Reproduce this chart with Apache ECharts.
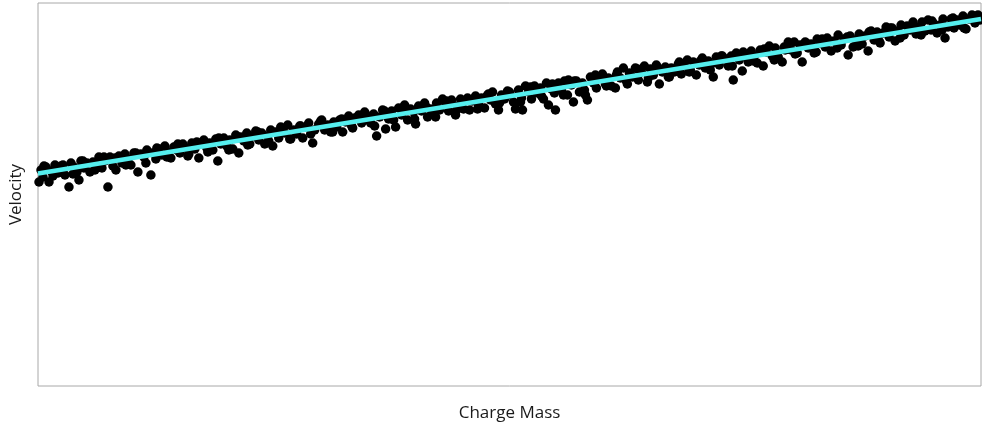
<!DOCTYPE html>
<html>
<head>
<meta charset="utf-8">
<title>Velocity vs Charge Mass</title>
<script src="https://cdn.jsdelivr.net/npm/echarts@6/dist/echarts.min.js"></script>
<style>
  html, body { margin: 0; padding: 0; background: #fff; }
  #chart { width: 982px; height: 430px; }
</style>
</head>
<body>
<div id="chart"></div>
<script>
// measured points (charge mass, velocity), arbitrary units
var chargeMass = [
    1, 3, 5, 8, 11, 13, 17, 20, 23, 27, 31, 33, 36, 39,
    41, 43, 46, 49, 52, 55, 58, 61, 64, 67, 70, 72, 75, 78,
    81, 84, 87, 90, 93, 96, 100, 103, 106, 109, 113, 115, 118,
    121, 124, 127, 130, 133, 136, 139, 142, 145, 148, 151, 154, 157,
    161, 163, 166, 169, 172, 175, 178, 180, 183, 186, 189, 192, 195, 198,
    201, 203, 206, 209, 212, 215, 218, 221, 224, 227, 230, 233, 235, 238,
    241, 244, 247, 250, 253, 256, 259, 262, 265, 268, 271, 275, 277,
    281, 284, 287, 290, 293, 296, 299, 302, 305, 308, 311, 314, 317,
    321, 324, 327, 330, 333, 336, 339, 342, 345, 348, 351, 354, 358,
    361, 364, 367, 370, 373, 376, 378, 381, 384, 387, 390, 393, 396, 399,
    402, 405, 408, 411, 414, 418, 420, 423, 426, 429, 432, 435, 438,
    441, 444, 447, 450, 453, 455, 458, 461, 464, 467, 470, 473, 476, 478,
    481, 484, 485, 488, 491, 494, 497, 500, 503, 506, 509, 511, 514, 517,
    518, 521, 524, 527, 530, 531, 534, 536, 539, 542, 545, 548, 550, 553, 556, 559,
    562, 565, 568, 571, 574, 578, 580, 583, 586, 589, 592, 595, 598,
    601, 604, 607, 610, 613, 616, 619, 622, 625, 628, 631, 634, 637,
    641, 644, 647, 650, 653, 656, 659, 662, 665, 668, 671, 674, 676, 679,
    682, 685, 688, 691, 694, 696, 699, 702, 705, 708, 711, 714, 717,
    720, 723, 726, 729, 732, 735, 738, 741, 745, 748, 751, 754, 757,
    760, 763, 765, 768, 771, 774, 777, 780, 783, 785, 788, 791, 794, 797,
    801, 804, 807, 811, 813, 816, 819, 822, 825, 828, 831, 834, 837,
    840, 843, 846, 849, 852, 855, 858, 861, 864, 867, 870, 873, 876, 879,
    882, 885, 888, 891, 894, 897, 900, 903, 906, 908, 911, 914, 917,
    920, 923, 926, 929, 932, 935, 938, 941, 943
];
var velocity = [
    204, 216, 209, 219, 204, 215, 221, 213, 220, 211, 199, 223, 219, 214,
    206, 225, 218, 223, 214, 224, 221, 229, 218, 225, 199, 229, 220, 216,
    230, 223, 232, 227, 221, 233, 214, 232, 229, 236, 211, 233, 227,
    237, 231, 240, 234, 228, 239, 236, 233, 242, 238, 232, 243, 237,
    228, 243, 246, 238, 243, 236, 247, 225, 242, 248, 240, 246, 237, 251,
    233, 249, 245, 253, 242, 250, 255, 246, 253, 242, 250, 256, 240, 254,
    248, 257, 253, 261, 247, 256, 252, 260, 248, 259, 263, 243, 256,
    262, 266, 256, 261, 254, 264, 259, 266, 254, 264, 270, 260, 268,
    271, 263, 274, 270, 263, 272, 250, 269, 276, 257, 267, 275, 259,
    278, 271, 281, 266, 277, 274, 262, 280, 275, 283, 269, 277, 274, 283,
    276, 287, 283, 275, 286, 271, 280, 287, 277, 286, 276, 285, 290,
    281, 288, 278, 291, 286, 294, 282, 276, 291, 287, 295, 291, 284, 277,
    296, 288, 276, 300, 294, 287, 300, 293, 298, 287, 303, 281, 297, 293,
    276, 303, 296, 305, 291, 306, 301, 284, 305, 294, 303, 291, 286, 309, 303, 298,
    308, 312, 302, 308, 300, 298, 314, 308, 318, 305, 313, 309, 318,
    306, 314, 320, 304, 317, 311, 321, 302, 314, 319, 309, 318, 314,
    322, 312, 320, 326, 316, 324, 311, 321, 328, 318, 325, 322, 309, 329,
    321, 330, 327, 320, 330, 306, 333, 326, 315, 331, 324, 335, 330,
    323, 336, 320, 334, 340, 330, 338, 329, 324, 336, 344, 336, 344,
    333, 341, 324, 344, 338, 342, 333, 347, 343, 347, 339, 346, 335, 345,
    351, 341, 347, 331, 350, 339, 346, 352, 342, 350, 335, 355, 346,
    354, 343, 353, 359, 349, 358, 345, 355, 361, 351, 360, 356, 364, 352,
    359, 364, 355, 366, 356, 362, 353, 361, 367, 348, 359, 367, 358,
    366, 361, 370, 357, 367, 371, 363, 371, 366
];
var extraMass = [
    6, 15, 25, 35, 45, 57, 66, 77, 88, 98, 108, 119, 129, 140, 150, 159,
    170, 181, 191, 200, 210, 220, 231, 243, 252, 263, 273, 283, 295, 304,
    315, 326, 337, 347, 356, 366, 377, 388, 398, 409, 419, 430, 440, 451,
    462, 472, 483, 493, 504, 515, 526, 537, 547, 558, 569, 579, 590, 600,
    611, 621, 632, 642, 652, 663, 673, 684, 695, 706, 716, 727, 737, 747,
    758, 769, 779, 790, 800, 810, 821, 832, 842, 853, 863, 874, 884, 895,
    905, 916, 927, 937
];
var extraVelocity = [
    220, 210, 221, 212, 225, 216, 229, 228, 221, 233, 223, 238, 229, 242, 230, 244,
    234, 248, 236, 249, 241, 254, 245, 259, 247, 260, 252, 265, 254, 267,
    258, 271, 260, 275, 266, 277, 267, 280, 269, 285, 276, 288, 277, 292,
    283, 294, 284, 299, 290, 302, 291, 305, 296, 311, 300, 311, 302, 317,
    308, 318, 309, 324, 314, 325, 316, 330, 320, 334, 325, 337, 326, 339,
    332, 343, 334, 348, 338, 349, 340, 354, 345, 358, 348, 360, 351, 365,
    356, 368, 358, 370
];
// fitted line end points
var fitX = [0, 944];
var fitY = [212.5, 367];

var points = chargeMass.map(function (m, i) { return [m, velocity[i]]; })
    .concat(extraMass.map(function (m, i) { return [m, extraVelocity[i]]; }));
var fitLine = fitX.map(function (m, i) { return [m, fitY[i]]; });

var myChart = echarts.init(document.getElementById('chart'));
var option = {
    animation: false,
    backgroundColor: '#fff',
    textStyle: { fontFamily: 'Open Sans' },
    grid: {
        left: 38,
        right: 1,
        top: 3,
        bottom: 44,
        show: true,
        borderColor: '#a8a8a8',
        borderWidth: 1
    },
    xAxis: {
        type: 'value',
        min: 0,
        max: 944,
        name: 'Charge Mass',
        nameLocation: 'middle',
        nameGap: 19,
        nameTextStyle: { fontSize: 17, color: '#1a1a1a' },
        axisLine: { show: false },
        axisTick: { show: false },
        axisLabel: { show: false },
        splitLine: { show: false }
    },
    yAxis: {
        type: 'value',
        min: 0,
        max: 383,
        name: 'Velocity',
        nameLocation: 'middle',
        nameGap: 13,
        nameTextStyle: { fontSize: 17, color: '#1a1a1a' },
        axisLine: { show: false },
        axisTick: { show: false },
        axisLabel: { show: false },
        splitLine: { show: false }
    },
    series: [
        {
            type: 'scatter',
            data: points,
            symbolSize: 9.5,
            itemStyle: { color: '#000', opacity: 1 },
            z: 2
        },
        {
            type: 'line',
            data: fitLine,
            symbol: 'none',
            lineStyle: { color: '#55eeee', width: 4.5 },
            z: 3
        }
    ]
};
myChart.setOption(option, true);
</script>
</body>
</html>
